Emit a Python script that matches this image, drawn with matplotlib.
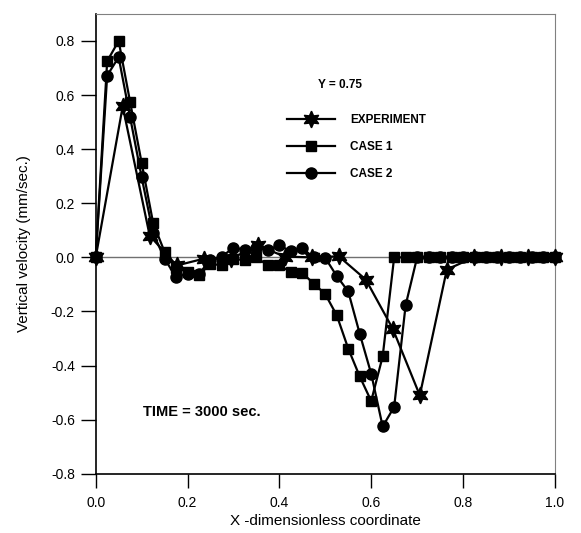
import numpy as np
import matplotlib
matplotlib.use("Agg")
import matplotlib.pyplot as plt

plt.rcParams['font.family'] = ['Liberation Sans', 'DejaVu Sans']

# experiment: 18 stations, equally spaced
x_exp = np.arange(18) / 17.0
v_exp = [0.0, 0.558, 0.08, -0.03, -0.005, -0.005, 0.044, 0.003, 0.0,
         0.004, -0.082, -0.264, -0.51, -0.045, 0.0, 0.0, 0.0, 0.0]

# computed cases, dx = 0.025
x_case = np.linspace(0, 1, 41)
v_case1 = [0.0, 0.725, 0.80, 0.574, 0.35, 0.128, 0.02, -0.04, -0.054, -0.066,
           -0.023, -0.03, -0.005, -0.011, 0.0, -0.03, -0.03, -0.054, -0.058,
           -0.097, -0.136, -0.214, -0.337, -0.44, -0.531, -0.366,
           0.0, 0.0, 0.0, 0.0, 0.0, 0.0, 0.0, 0.0, 0.0, 0.0, 0.0, 0.0, 0.0, 0.0, 0.0]
v_case2 = [0.0, 0.672, 0.74, 0.518, 0.297, 0.09, -0.005, -0.073, -0.06, -0.06,
           -0.01, 0.003, 0.036, 0.028, 0.036, 0.028, 0.044, 0.023, 0.033,
           0.0, -0.002, -0.069, -0.126, -0.282, -0.43, -0.625, -0.553, -0.177,
           0.0, 0.0, 0.0, 0.0, 0.0, 0.0, 0.0, 0.0, 0.0, 0.0, 0.0, 0.0, 0.0]

xticks = [0.0, 0.2, 0.4, 0.6, 0.8, 1.0]
yticks = [-0.8, -0.6, -0.4, -0.2, 0.0, 0.2, 0.4, 0.6, 0.8]

fig = plt.figure(figsize=(5.81, 5.33), dpi=100)
ax = fig.add_axes([0.1647, 0.111, 0.7903, 0.863])

# zero line
ax.axhline(0, color='#707070', lw=1.0, zorder=1)

star = (6, 1, 0)
ax.plot(x_exp, v_exp, color='k', lw=1.6, marker=star, ms=12, label='EXPERIMENT',
        clip_on=False, zorder=3)
ax.plot(x_case, v_case1, color='k', lw=1.6, marker='s', ms=7.5, label='CASE 1',
        clip_on=False, zorder=3)
ax.plot(x_case, v_case2, color='k', lw=1.6, marker='o', ms=8, label='CASE 2',
        clip_on=False, zorder=3)

ax.set_xlim(0, 1.0)
ax.set_ylim(-0.8, 0.9)
ax.set_xticks(xticks)
ax.set_yticks(yticks)
ax.set_xticklabels(['%.1f' % t for t in xticks])
ax.set_yticklabels(['%.1f' % t for t in yticks])
ax.tick_params(axis='y', direction='out', length=11, width=1, labelsize=10, pad=4)
ax.tick_params(axis='x', direction='out', length=10, width=1, labelsize=10, pad=6)

for side in ['top', 'right']:
    ax.spines[side].set_color('#808080')
for side in ['left', 'bottom']:
    ax.spines[side].set_color('k')
    ax.spines[side].set_linewidth(1.2)

ax.set_xlabel('X -dimensionless coordinate', fontsize=11, labelpad=3)
ax.set_ylabel('Vertical velocity (mm/sec.)', fontsize=11, labelpad=14)

ax.text(0.484, 0.636, 'Y = 0.75', fontsize=8.5, fontweight='bold', va='center')
ax.legend(loc='upper left', bbox_to_anchor=(0.407, 0.793), frameon=False,
          borderaxespad=0, prop={'weight': 'bold', 'size': 8.5}, handlelength=4.0,
          handletextpad=1.3, labelspacing=1.3)
ax.text(0.104, -0.57, 'TIME = 3000 sec.', fontsize=10.5, fontweight='bold',
        va='center')

fig.savefig('out.png', dpi=100)
